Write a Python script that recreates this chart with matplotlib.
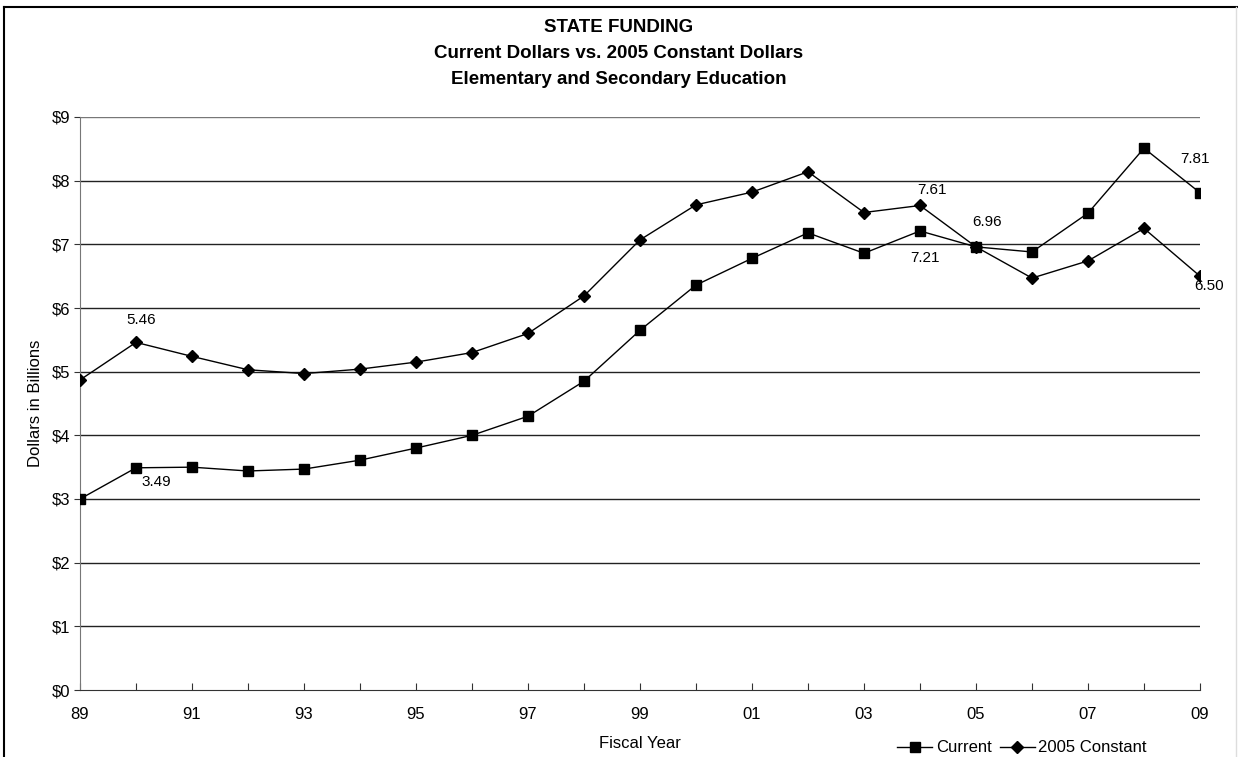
import matplotlib
matplotlib.use("Agg")
import matplotlib.pyplot as plt
from matplotlib.lines import Line2D

plt.rcParams['font.family'] = ['Liberation Sans', 'DejaVu Sans']

# 数据
years = ['89', '90', '91', '92', '93', '94', '95', '96', '97', '98', '99',
         '00', '01', '02', '03', '04', '05', '06', '07', '08', '09']
current = [3.00, 3.49, 3.50, 3.44, 3.47, 3.61, 3.80, 4.00, 4.30, 4.85, 5.65,
           6.36, 6.78, 7.18, 6.86, 7.21, 6.96, 6.88, 7.49, 8.51, 7.81]
constant = [4.87, 5.46, 5.24, 5.03, 4.97, 5.04, 5.15, 5.30, 5.60, 6.19, 7.07,
            7.62, 7.82, 8.14, 7.50, 7.61, 6.96, 6.47, 6.74, 7.25, 6.50]
y_ticks = [0, 1, 2, 3, 4, 5, 6, 7, 8, 9]
y_labels = ['$0', '$1', '$2', '$3', '$4', '$5', '$6', '$7', '$8', '$9']

fig = plt.figure(figsize=(12.38, 7.57), dpi=100)
ax = fig.add_axes([80/1238, 1 - 690/757, 1120/1238, 573/757])

x = list(range(len(years)))
ax.plot(x, current, color='black', lw=1, marker='s', ms=6.5, label='Current', zorder=3)
ax.plot(x, constant, color='black', lw=1, marker='D', ms=6, label='2005 Constant', zorder=3)

ax.set_xlim(0, len(years) - 1)
ax.set_ylim(0, 9)
ax.set_yticks(y_ticks)
ax.set_yticklabels(y_labels, fontsize=12)
ax.set_xticks(x)
ax.set_xticklabels([y if i % 2 == 0 else '' for i, y in enumerate(years)], fontsize=12)
ax.tick_params(axis='x', direction='in', length=5, pad=12, color='#333333')
ax.tick_params(axis='y', direction='out', length=4, pad=3, color='#333333')

for v in y_ticks[1:]:
    ax.axhline(v, color='#222222' if v != 9 else '#777777', lw=1, zorder=1)

ax.spines['top'].set_visible(False)
ax.spines['right'].set_visible(False)
ax.spines['left'].set_color('#777777')
ax.spines['bottom'].set_color('#333333')

ax.set_ylabel('Dollars in Billions', fontsize=12, labelpad=6)
ax.set_xlabel('Fiscal Year', fontsize=12, labelpad=10)

# 数值标注
def note(i, series, dx, dy):
    ax.annotate(f'{series[i]:.2f}', xy=(i, series[i]), xytext=(dx, dy),
                textcoords='offset points', ha='center', va='center', fontsize=11)

note(1, constant, 3.6, 15.8)
note(1, current, 14.4, -10)
note(15, constant, 8.6, 11.5)
note(15, current, 3.6, -19.4)
note(16, current, 8, 18)
note(20, current, -3.6, 24.5)
note(20, constant, 6.5, -7.2)

title_lines = ['STATE FUNDING',
               'Current Dollars vs. 2005 Constant Dollars',
               'Elementary and Secondary Education']
for line, yb in zip(title_lines, [32, 58, 84]):
    fig.text(0.5, 1 - yb/757, line, ha='center', va='baseline', fontsize=13.5, fontweight='bold')

handles = [Line2D([], [], color='black', lw=1, marker='s', ms=6.5),
           Line2D([], [], color='black', lw=1, marker='D', ms=6)]
fig.legend(handles, ['Current', '2005 Constant'], loc='center', ncol=2, frameon=False,
           bbox_to_anchor=(1022/1238, 1 - 748/757), fontsize=12, handlelength=2.1,
           handletextpad=0.2, columnspacing=0.5, borderpad=0)

# 外框
fig.add_artist(Line2D([4/1238, 4/1238], [0, 1 - 7/757], color='black', lw=1.5))
fig.add_artist(Line2D([4/1238, 1], [1 - 7/757, 1 - 7/757], color='black', lw=1.5))
fig.add_artist(Line2D([1236/1238, 1236/1238], [0, 1 - 7/757], color='#dddddd', lw=1))

fig.savefig('out.png', dpi=100)
